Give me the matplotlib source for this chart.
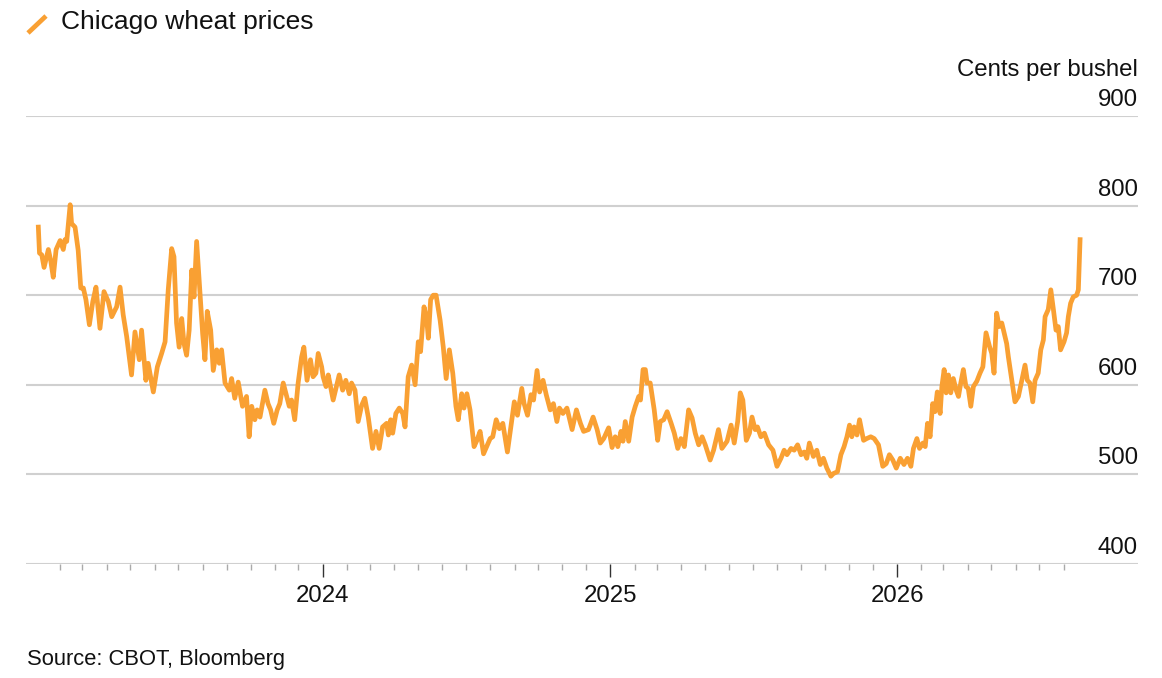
import matplotlib
matplotlib.use("Agg")
import matplotlib.pyplot as plt
from matplotlib.lines import Line2D
from matplotlib.transforms import ScaledTranslation, blended_transform_factory
import numpy as np
import pandas as pd

# ---------------
# ---the data---
# ---------------
# decimal years
t_2023 = [2023.008, 2023.012, 2023.020, 2023.028, 2023.043, 2023.051, 2023.060, 2023.070, 2023.084, 2023.095,
          2023.101, 2023.107, 2023.119, 2023.124, 2023.136, 2023.147, 2023.156, 2023.165, 2023.174, 2023.186,
          2023.198, 2023.209, 2023.223, 2023.237, 2023.252, 2023.264, 2023.281, 2023.293, 2023.304, 2023.316,
          2023.333, 2023.345, 2023.360, 2023.368, 2023.383, 2023.391, 2023.409, 2023.423, 2023.438, 2023.450,
          2023.461, 2023.473, 2023.481, 2023.490, 2023.499, 2023.508, 2023.516, 2023.525, 2023.534, 2023.543,
          2023.551, 2023.560, 2023.571, 2023.581, 2023.589, 2023.597, 2023.609, 2023.618, 2023.630, 2023.639,
          2023.647, 2023.659, 2023.674, 2023.682, 2023.693, 2023.705, 2023.720, 2023.734, 2023.743, 2023.752,
          2023.763, 2023.771, 2023.781, 2023.798, 2023.809, 2023.818, 2023.829, 2023.841, 2023.850, 2023.862,
          2023.874, 2023.883, 2023.891, 2023.902, 2023.914, 2023.926, 2023.934, 2023.945, 2023.957, 2023.966,
          2023.976, 2023.984, 2023.996]
p_2023 = [776, 747, 745, 731, 751, 739, 720, 751, 761, 751,
          762, 760, 801, 780, 776, 750, 708, 708, 695, 667,
          693, 709, 663, 704, 693, 676, 687, 709, 678, 654,
          611, 659, 628, 661, 605, 624, 592, 620, 635, 648,
          706, 752, 743, 669, 642, 674, 646, 633, 661, 728,
          698, 760, 706, 657, 628, 682, 661, 616, 639, 624,
          639, 602, 594, 607, 585, 603, 576, 587, 542, 576,
          561, 572, 564, 594, 579, 572, 557, 572, 579, 602,
          587, 576, 583, 561, 602, 631, 642, 605, 628, 609,
          613, 635, 620]

t_2024 = [2024.001, 2024.011, 2024.019, 2024.036, 2024.057, 2024.069, 2024.080, 2024.092, 2024.100, 2024.112,
          2024.123, 2024.135, 2024.146, 2024.158, 2024.173, 2024.185, 2024.196, 2024.208, 2024.222, 2024.228,
          2024.236, 2024.243, 2024.254, 2024.266, 2024.278, 2024.286, 2024.297, 2024.309, 2024.321, 2024.332,
          2024.340, 2024.352, 2024.361, 2024.367, 2024.375, 2024.384, 2024.394, 2024.408, 2024.419, 2024.429,
          2024.440, 2024.452, 2024.463, 2024.471, 2024.483, 2024.491, 2024.501, 2024.512, 2024.526, 2024.536,
          2024.547, 2024.559, 2024.570, 2024.582, 2024.591, 2024.603, 2024.614, 2024.626, 2024.642, 2024.654,
          2024.666, 2024.677, 2024.692, 2024.700, 2024.712, 2024.724, 2024.733, 2024.745, 2024.754, 2024.766,
          2024.777, 2024.791, 2024.802, 2024.814, 2024.823, 2024.835, 2024.849, 2024.867, 2024.882, 2024.896,
          2024.907, 2024.924, 2024.940, 2024.954, 2024.965, 2024.977, 2024.994]
p_2024 = [609, 598, 611, 583, 611, 594, 605, 590, 602, 594,
          559, 577, 585, 564, 529, 548, 529, 553, 557, 544,
          561, 546, 568, 574, 568, 553, 609, 622, 600, 648,
          637, 687, 674, 652, 695, 700, 700, 672, 642, 607,
          639, 613, 576, 561, 590, 574, 590, 572, 531, 538,
          548, 523, 531, 540, 542, 561, 551, 557, 525, 553,
          581, 566, 596, 579, 566, 589, 583, 616, 592, 605,
          589, 572, 579, 559, 574, 568, 574, 550, 572, 557,
          548, 550, 564, 550, 535, 540, 552]

t_2025 = [2025.006, 2025.017, 2025.026, 2025.037, 2025.044, 2025.052, 2025.064, 2025.076, 2025.087, 2025.099,
          2025.105, 2025.114, 2025.122, 2025.128, 2025.139, 2025.153, 2025.165, 2025.174, 2025.186, 2025.198,
          2025.212, 2025.223, 2025.235, 2025.246, 2025.258, 2025.273, 2025.285, 2025.296, 2025.308, 2025.320,
          2025.331, 2025.348, 2025.360, 2025.377, 2025.389, 2025.407, 2025.421, 2025.432, 2025.444, 2025.453,
          2025.462, 2025.474, 2025.485, 2025.494, 2025.505, 2025.513, 2025.525, 2025.537, 2025.552, 2025.567,
          2025.581, 2025.595, 2025.606, 2025.616, 2025.630, 2025.641, 2025.653, 2025.665, 2025.676, 2025.685,
          2025.694, 2025.708, 2025.720, 2025.732, 2025.743, 2025.755, 2025.769, 2025.778, 2025.792, 2025.804,
          2025.815, 2025.825, 2025.834, 2025.842, 2025.850, 2025.860, 2025.869, 2025.883, 2025.894, 2025.908,
          2025.920, 2025.935, 2025.950, 2025.962, 2025.973, 2025.985, 2025.997]
p_2025 = [530, 542, 531, 548, 537, 559, 537, 564, 576, 587,
          583, 617, 617, 602, 602, 572, 538, 559, 561, 570,
          557, 546, 529, 540, 531, 572, 563, 546, 533, 542,
          533, 516, 527, 550, 529, 537, 555, 535, 559, 591,
          583, 538, 546, 564, 550, 553, 542, 546, 533, 527,
          509, 518, 527, 522, 529, 527, 533, 522, 525, 518,
          535, 520, 527, 511, 518, 507, 498, 501, 503, 522,
          531, 542, 555, 542, 553, 544, 561, 538, 540, 542,
          540, 533, 509, 512, 522, 516, 507]

t_2026 = [2026.011, 2026.024, 2026.036, 2026.048, 2026.057, 2026.069, 2026.078, 2026.090, 2026.098, 2026.106,
          2026.115, 2026.124, 2026.132, 2026.140, 2026.150, 2026.156, 2026.164, 2026.171, 2026.179, 2026.187,
          2026.196, 2026.206, 2026.214, 2026.222, 2026.231, 2026.240, 2026.248, 2026.257, 2026.266, 2026.278,
          2026.289, 2026.299, 2026.310, 2026.322, 2026.330, 2026.338, 2026.347, 2026.356, 2026.365, 2026.373,
          2026.382, 2026.388, 2026.400, 2026.411, 2026.423, 2026.435, 2026.446, 2026.454, 2026.463, 2026.473,
          2026.481, 2026.492, 2026.501, 2026.510, 2026.516, 2026.527, 2026.536, 2026.545, 2026.554, 2026.562,
          2026.570, 2026.582, 2026.591, 2026.597, 2026.605, 2026.614, 2026.626, 2026.632, 2026.638]
p_2026 = [518, 511, 518, 509, 529, 540, 529, 535, 531, 557,
          542, 579, 570, 592, 568, 598, 617, 591, 611, 591,
          607, 594, 587, 602, 617, 598, 596, 576, 598, 604,
          613, 620, 658, 643, 635, 613, 680, 665, 669, 658,
          646, 631, 605, 581, 587, 605, 622, 605, 602, 581,
          605, 613, 639, 650, 676, 684, 706, 684, 661, 665,
          639, 648, 658, 676, 691, 698, 700, 706, 762]

year_labels = ["2024", "2025", "2026"]
y_ticks = [400, 500, 600, 700, 800, 900]

title = "Chicago wheat prices"
unit = "Cents per bushel"
source = "Source: CBOT, Bloomberg"

# ---------------------
# ---setup graphing---
# ---------------------

def to_date(t):
	y = int(np.floor(t))
	start = pd.Timestamp(y, 1, 1)
	end = pd.Timestamp(y + 1, 1, 1)
	return start + (t - y) * (end - start)

years = t_2023 + t_2024 + t_2025 + t_2026
prices = p_2023 + p_2024 + p_2025 + p_2026
dates = [to_date(t) for t in years]

orange = '#f9a033'
grid_col = '#d0d0d0'
plt.rcParams['font.family'] = ['Liberation Sans', 'DejaVu Sans']

W, H = 1162, 678
fig = plt.figure(figsize=(W / 100, H / 100), dpi=100)
ax = fig.add_axes([26 / W, 114 / H, (1138 - 26) / W, (564 - 116) / H])

ax.plot(dates, prices, color=orange, lw=3.4, solid_joinstyle='round', zorder=3)

ax.set_ylim(400, 900)
ax.set_xlim(to_date(2022.965), to_date(2026.84))

for s in ax.spines.values():
	s.set_visible(False)

# gridlines + labels sitting above them on the right
ax.set_yticks([])
lab_tr = blended_transform_factory(ax.transAxes, ax.transData) + ScaledTranslation(0, 10 / 100, fig.dpi_scale_trans)
for v in y_ticks:
	ax.axhline(v, color=grid_col, lw=1.5, zorder=1)
	ax.text(1.0, v, str(v), transform=lab_tr, ha='right', va='baseline', fontsize=17.3, color='#111111')

ax.text(1.0, 900, unit, transform=blended_transform_factory(ax.transAxes, ax.transData)
	+ ScaledTranslation(0, 40 / 100, fig.dpi_scale_trans), ha='right', va='baseline', fontsize=17.3, color='#111111')

# x ticks: years major, months minor
major = [pd.Timestamp(int(y), 1, 1) for y in year_labels]
minor = [d for d in pd.date_range('2023-02-01', '2026-08-01', freq='MS') if d.month != 1]
ax.set_xticks(major)
ax.set_xticklabels(year_labels, fontsize=17.3, color='#111111')
ax.set_xticks(minor, minor=True)
ax.tick_params(axis='x', which='major', length=9, width=1.0, color='#333333', pad=6)
ax.tick_params(axis='x', which='minor', length=4.5, width=1.0, color='#aaaaaa')

# header with a little line swatch
fig.add_artist(Line2D([28 / W, 46 / W], [1 - 33 / H, 1 - 16 / H], transform=fig.transFigure,
	color=orange, lw=3.4, solid_capstyle='butt'))
fig.text(61 / W, 1 - 28.5 / H, title, fontsize=19, va='baseline', ha='left', color='#111111')

fig.text(27 / W, 1 - 665 / H, source, fontsize=15.8, va='baseline', ha='left', color='#111111')

plt.savefig('out.png', dpi=100)
